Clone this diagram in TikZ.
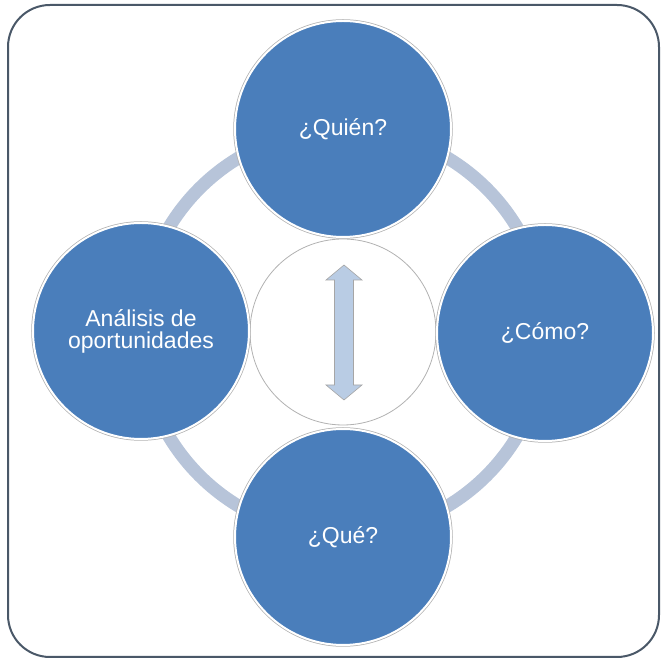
\documentclass[tikz,border=0pt]{standalone}
\usepackage{fontspec}
\setmainfont{Liberation Sans}
\definecolor{azul}{HTML}{4A7EBB}
\definecolor{anillo}{HTML}{B7C4D9}
\definecolor{flecha}{HTML}{B9CCE4}
\definecolor{marco}{HTML}{4A5868}
\begin{document}
\begin{tikzpicture}[
    x=1pt, y=1pt,
    etapa/.style={circle, fill=azul, draw=white, line width=2pt, minimum size=216pt,
      inner sep=0pt, text=white, font=\fontsize{23}{22}\selectfont, align=center,
      preaction={draw=black!30, line width=3.5pt}},
    centro/.style={circle, fill=white, draw=black!30, line width=0.8pt, minimum size=186pt}
  ]
    \useasboundingbox (0,0) rectangle (664,658);
    \draw[marco, line width=2pt, rounded corners=42pt] (8,1) rectangle (659,653);
    \coordinate (c) at (343,326);
    \draw[anillo, line width=13pt] (c) circle (203);
    \node[centro] (medio) at (c) {};
    \node[etapa] (quien) at (343,529) {¿Quién?};
    \node[etapa] (como) at (545,325) {¿Cómo?};
    \node[etapa] (que) at (343,121) {¿Qué?};
    \node[etapa] (analisis) at (141,327) {Análisis de\\oportunidades};
    % flecha doble del centro
    \draw[fill=flecha, draw=black!35, line width=0.6pt]
      (344,393) -- (362,378) -- (353.5,378) -- (353.5,273) -- (362,273) -- (344,258)
      -- (326,273) -- (334.5,273) -- (334.5,378) -- (326,378) -- cycle;
  \end{tikzpicture}
\end{document}
